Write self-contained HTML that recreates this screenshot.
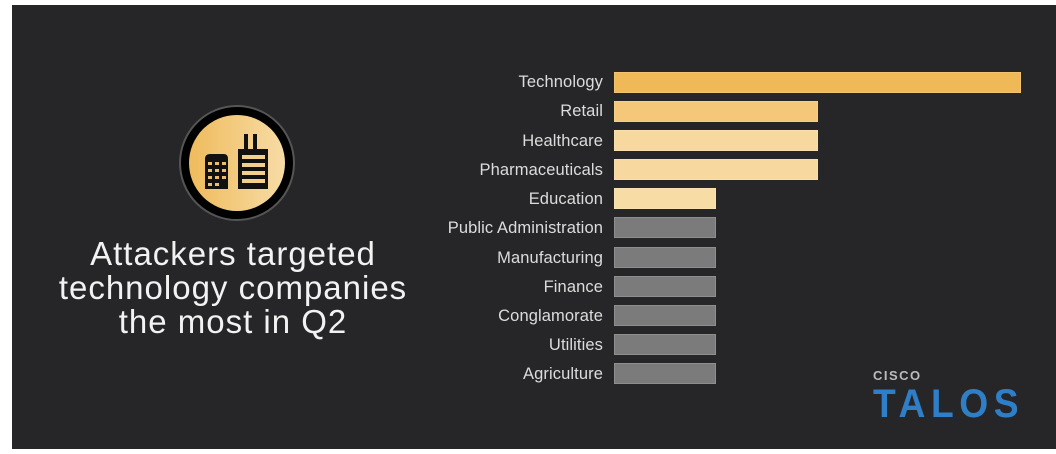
<!DOCTYPE html>
<html><head><meta charset="utf-8"><style>
html,body{margin:0;padding:0;background:#fff;}
body{width:1056px;height:454px;position:relative;overflow:hidden;font-family:"Liberation Sans",sans-serif;}
#p{position:absolute;left:12px;top:5px;width:1044px;height:444px;background:#262628;}
.l{position:absolute;right:453px;color:#dcdcdc;font-size:16.5px;line-height:21px;white-space:nowrap;letter-spacing:0.1px;}
.b{position:absolute;left:614px;height:19px;border:1px solid rgba(255,255,255,0.15);box-sizing:content-box;}
.t{position:absolute;left:20px;width:426px;text-align:center;color:#f2f2f2;font-size:33px;line-height:34px;top:237px;letter-spacing:1px;}
</style></head><body>
<div id="p"></div>
<svg style="position:absolute;left:178px;top:104px" width="118" height="118">
<defs><linearGradient id="g" x1="0" x2="1"><stop offset="0" stop-color="#efbb5c"/><stop offset="1" stop-color="#f7dca6"/></linearGradient></defs>
<circle cx="59" cy="59" r="57" fill="#000" stroke="#555" stroke-width="2"/>
<circle cx="59" cy="59" r="48" fill="url(#g)"/>
<path d="M27 55 Q27 50 32 50 L46 50 Q50 50 50 55 L50 85 L27 85 Z" fill="#111"/>
<g fill="#e9bd6a"><rect x="30" y="58" width="4" height="3"/><rect x="37" y="58" width="4" height="3"/><rect x="44" y="58" width="4" height="3"/><rect x="30" y="65" width="4" height="3"/><rect x="37" y="65" width="4" height="3"/><rect x="44" y="65" width="4" height="3"/><rect x="30" y="72" width="4" height="3"/><rect x="37" y="72" width="4" height="3"/><rect x="44" y="72" width="4" height="3"/><rect x="30" y="79" width="4" height="3"/><rect x="37" y="79" width="4" height="3"/></g>
<rect x="66" y="30" width="4" height="18" fill="#111"/><rect x="75" y="30" width="4" height="18" fill="#111"/>
<rect x="60" y="45" width="30" height="40" fill="#111"/>
<g fill="#f2cf8c"><rect x="64" y="51" width="23" height="4"/><rect x="64" y="59" width="23" height="4"/><rect x="64" y="67" width="23" height="4"/><rect x="64" y="75" width="23" height="4"/></g>
</svg>
<div class="t">Attackers targeted<br>technology companies<br>the most in Q2</div>
<div class="l" style="top:72px">Technology</div><div class="b" style="top:72px;width:405px;background:#efb957"></div>
<div class="l" style="top:101px">Retail</div><div class="b" style="top:101px;width:202px;background:#f4c878"></div>
<div class="l" style="top:131px">Healthcare</div><div class="b" style="top:130px;width:202px;background:#f7d9a0"></div>
<div class="l" style="top:160px">Pharmaceuticals</div><div class="b" style="top:159px;width:202px;background:#f7d9a0"></div>
<div class="l" style="top:189px">Education</div><div class="b" style="top:188px;width:100px;background:#f8dca6"></div>
<div class="l" style="top:218px">Public Administration</div><div class="b" style="top:217px;width:100px;background:#7b7b7b"></div>
<div class="l" style="top:248px">Manufacturing</div><div class="b" style="top:247px;width:100px;background:#7b7b7b"></div>
<div class="l" style="top:277px">Finance</div><div class="b" style="top:276px;width:100px;background:#7b7b7b"></div>
<div class="l" style="top:306px">Conglamorate</div><div class="b" style="top:305px;width:100px;background:#7b7b7b"></div>
<div class="l" style="top:335px">Utilities</div><div class="b" style="top:334px;width:100px;background:#7b7b7b"></div>
<div class="l" style="top:364px">Agriculture</div><div class="b" style="top:363px;width:100px;background:#7b7b7b"></div>
<div style="position:absolute;left:873px;top:368px;color:#bbb;font-size:13px;font-weight:bold;letter-spacing:1.5px">CISCO</div>
<div style="position:absolute;left:873px;top:384px;color:#2f7fc8;font-size:40px;line-height:40px;font-weight:bold;letter-spacing:6px;transform:scaleX(0.93);transform-origin:left">TALOS</div>
</body></html>
